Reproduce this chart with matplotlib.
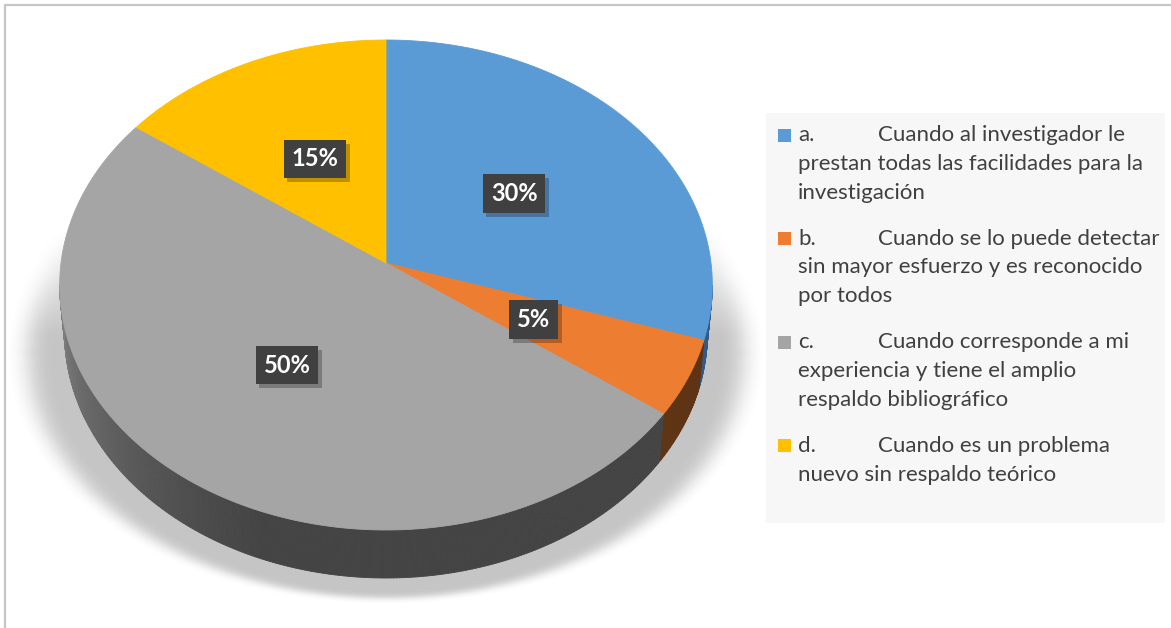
import numpy as np
import matplotlib.pyplot as plt
from matplotlib.patches import Polygon, Rectangle
from matplotlib.collections import PolyCollection
from matplotlib.colors import to_rgb
import matplotlib.patheffects as pe

# datos
letras = ['a.', 'b.', 'c.', 'd.']
primeras = ['Cuando al investigador le',
            'Cuando se lo puede detectar',
            'Cuando corresponde a mi',
            'Cuando es un problema']
restos = [['prestan todas las facilidades para la', 'investigación'],
          ['sin mayor esfuerzo y es reconocido', 'por todos'],
          ['experiencia y tiene el amplio', 'respaldo bibliográfico'],
          ['nuevo sin respaldo teórico']]
porcentajes = [30, 5, 50, 15]
colores = ['#5b9bd5', '#ed7d31', '#a5a5a5', '#ffc000']
lados = ['#2f5b86', '#5e3414', '#444444', '#806000']

W, H = 1171, 628
# proyeccion en perspectiva del disco (centro, semieje, inclinacion)
cx, cy, a, b, g = 386, 263, 325, 219.4, 0.0898
prof, enc = 48, 0.985


def punto(t, r=1.0, abajo=False):
    t = np.radians(t)
    u, v = r * np.sin(t), r * np.cos(t)
    d = 1 + g * v
    x = cx + a * u / d
    y = (cy - b * v) / d
    if abajo:
        x = cx + (x - cx) * enc
        y = y + prof
    return x, y


def caja_blur(m, r, eje):
    c = np.cumsum(np.pad(m, [(r + 1, r) if i == eje else (0, 0) for i in range(2)], mode='edge'), axis=eje)
    if eje == 0:
        return (c[2 * r + 1:] - c[:-2 * r - 1]) / (2 * r + 1)
    return (c[:, 2 * r + 1:] - c[:, :-2 * r - 1]) / (2 * r + 1)


fig = plt.figure(figsize=(W / 100, H / 100), dpi=100)
ax = fig.add_axes([0, 0, 1, 1])
ax.set_xlim(0, W)
ax.set_ylim(H, 0)
ax.axis('off')

# sombra en perspectiva
yy, xx = np.mgrid[0:H, 0:W] + 0.5
ey0, ery = 285, 245
mask = np.zeros((H, W), bool)
for s in range(0, 70, 2):
    erx = 328 * (1 + 0.09 * s / 68)
    mask |= ((xx - cx) / erx) ** 2 + ((yy - ey0 - s) / ery) ** 2 <= 1
m = mask.astype(float) * np.clip((yy - 225) / 110, 0, 1)
for _ in range(2):
    m = caja_blur(m, 12, 1)
    m = caja_blur(m, 3, 0)
sombra = np.zeros((H, W, 4))
sombra[..., 3] = m * 0.23
ax.imshow(sombra, extent=(0, W, H, 0), aspect='auto', zorder=0, interpolation='bilinear')

# angulos de cada porcion (sentido horario desde arriba)
total = sum(porcentajes)
inicio = 0.0
angulos = []
for p in porcentajes:
    fin = inicio + 360.0 * p / total
    angulos.append((inicio, fin))
    inicio = fin

# zona visible del costado: entre los extremos horizontales del contorno
tt = np.linspace(0, 360, 3601)
xs = punto(tt)[0]
t_der, t_izq = tt[np.argmax(xs)], tt[np.argmin(xs)]

# caras laterales
for (a0, a1), lado in zip(angulos, lados):
    s0, s1 = max(a0, t_der), min(a1, t_izq)
    if s1 <= s0:
        continue
    ts = np.linspace(s0, s1, max(3, int((s1 - s0) * 2)))
    quads, cols = [], []
    base_rgb = np.array(to_rgb(lado))
    for t0, t1 in zip(ts[:-1], ts[1:]):
        p0, p1 = punto(t0), punto(t1)
        q0, q1 = punto(t0, abajo=True), punto(t1, abajo=True)
        quads.append([p0, p1, q1, q0])
        k = np.clip(((t0 + t1) / 2 - 200) / 65, 0, 1) ** 1.2
        cols.append(base_rgb + (np.array([0.50, 0.50, 0.50]) - base_rgb) * k * (lado == '#444444'))
    ax.add_collection(PolyCollection(quads, facecolors=cols, edgecolors=cols, linewidths=0.6, zorder=2))

# caras superiores
for (a0, a1), col in zip(angulos, colores):
    ts = np.linspace(a0, a1, max(3, int((a1 - a0) * 2)))
    pts = [(cx, cy)] + [punto(t) for t in ts]
    ax.add_patch(Polygon(pts, closed=True, facecolor=col, edgecolor=col, lw=0.6, zorder=3))

# etiquetas de porcentaje
for (a0, a1), p in zip(angulos, porcentajes):
    x, y = punto((a0 + a1) / 2, 0.5)
    t = ax.text(x, y, f'{p}%', color='white', fontsize=17, fontweight='bold', family='Lato',
                ha='center', va='center', zorder=5,
                bbox=dict(boxstyle='square,pad=0.33', fc='#404040', ec='none'))
    t.get_bbox_patch().set_path_effects([
        pe.SimplePatchShadow(offset=(2.5, -3), shadow_rgbFace='black', alpha=0.25), pe.Normal()])

# leyenda
ax.add_patch(Rectangle((766, 113), 399, 410, facecolor='#f7f7f7', edgecolor='none', zorder=1))
y = 135
for letra, prim, resto, col in zip(letras, primeras, restos, colores):
    ax.add_patch(Rectangle((778, y - 6.5), 13, 13, facecolor=col, edgecolor='none', zorder=2))
    ax.text(798, y, letra, fontsize=16, color='#404040', family='Lato', va='center', zorder=2)
    ax.text(878, y, prim, fontsize=16, color='#404040', family='Lato', va='center', zorder=2)
    for linea in resto:
        y += 28.8
        ax.text(798, y, linea, fontsize=16, color='#404040', family='Lato', va='center', zorder=2)
    y += 46

# borde
ax.plot([5, 5, W], [H, 5, 5], color='#c6c6c6', lw=1.6, zorder=6, solid_capstyle='butt')

fig.savefig('out.png', dpi=100)
